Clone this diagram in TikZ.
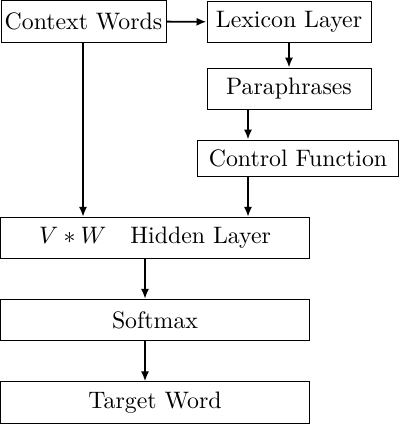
\documentclass[tikz,border=0pt]{standalone}
\usepackage{amsmath}
\usepackage{tikz}
\usetikzlibrary{shapes,arrows,arrows.meta}
\tikzstyle{block} = [draw, fill=white, rectangle, inner sep=0pt,
    minimum height=17.3pt]
\tikzstyle{wide} = [block, minimum width=129.4pt]

\begin{document}
\begin{tikzpicture}[auto, x=0.42pt, y=-0.42pt, >={Latex[length=4.2pt,width=3.4pt]}]
    \useasboundingbox (0,0) rectangle (400,424);

    \node [block, minimum width=69.3pt] (context) at (83.5,21.5) {Context Words};
    \node [block, minimum width=68.9pt] (lexicon) at (289,22) {Lexicon Layer};
    \node [block, minimum width=68.9pt] (para) at (289,88.7) {Paraphrases};
    \node [block, minimum width=84.8pt, minimum height=15.5pt] (control) at (298,158.5) {Control Function};
    \node [wide] (hidden) at (155,238) {$V*W$\quad Hidden Layer};
    \node [wide] (softmax) at (155,320) {Softmax};
    \node [wide] (target) at (155,402.5) {Target Word};

    \coordinate (ctxx) at (83,0);
    \coordinate (ctrlx) at (248,0);
    \coordinate (outx) at (145,0);

    \draw [thick,->] (context) -- (lexicon);
    \draw [thick,->] (lexicon) -- (para);
    \draw [thick,->] (para.south -| ctrlx) -- (control.north -| ctrlx);
    \draw [thick,->] (control.south -| ctrlx) -- (hidden.north -| ctrlx);
    \draw [thick,->] (context.south -| ctxx) -- (hidden.north -| ctxx);
    \draw [thick,->] (hidden.south -| outx) -- (softmax.north -| outx);
    \draw [thick,->] (softmax.south -| outx) -- (target.north -| outx);
\end{tikzpicture}
\end{document}
